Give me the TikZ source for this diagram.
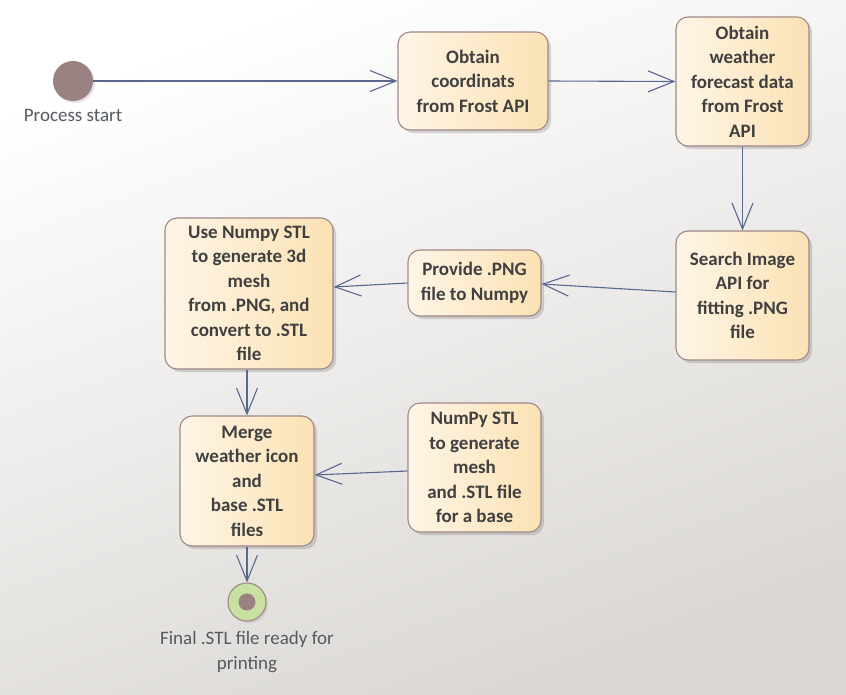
\documentclass[tikz,border=0pt]{standalone}
\usepackage{fontspec}
\setmainfont{Carlito}
\usetikzlibrary{arrows.meta,shadows}
\definecolor{boxL}{HTML}{FEF5E6}
\definecolor{boxR}{HTML}{FBE2B4}
\definecolor{boxD}{HTML}{A08888}
\definecolor{lineC}{HTML}{5A6890}
\definecolor{txtC}{HTML}{404040}
\definecolor{lblC}{HTML}{555a60}
\definecolor{dotC}{HTML}{9A8282}
\definecolor{endG}{HTML}{C8E0A0}
\definecolor{bgB}{HTML}{DAD7D3}
\tikzset{
  act/.style={draw=boxD, line width=1.1pt, rounded corners=12pt, left color=boxL, right color=boxR,
    drop shadow={shadow xshift=3pt, shadow yshift=-3pt, opacity=0.25, fill=black!60},
    align=center, text=txtC, font=\fontsize{19}{24.5}\selectfont\bfseries, inner sep=0pt},
  arr/.style={draw=lineC, line width=1.1pt, -{Straight Barb[length=26pt,width=21pt,line width=1.1pt]}},
  lbl/.style={text=lblC, font=\fontsize{19}{24.5}\selectfont, align=center}
}
\begin{document}
\begin{tikzpicture}[x=1pt,y=-1pt]
\useasboundingbox (0,0) rectangle (846,694);
\shade[top color=white, bottom color=bgB, shading angle=20] (0,0) rectangle (846,694);
% nodes
\node[circle, fill=dotC, minimum size=40pt, inner sep=0pt, drop shadow={shadow xshift=2pt, shadow yshift=-2pt, opacity=0.2}] (start) at (73,81) {};
\node[lbl, anchor=center] (startlbl) at (73,115) {Process start};
\node[act, minimum width=150pt, minimum height=98pt] (b1) at (473,81) {Obtain\\coordinats\\from Frost API};
\node[act, minimum width=133pt, minimum height=129pt] (b2) at (742.5,81.5) {Obtain\\weather\\forecast data\\from Frost\\API};
\node[act, minimum width=133pt, minimum height=129pt] (b3) at (742.5,295.5) {Search Image\\API for\\fitting .PNG\\file};
\node[act, minimum width=133pt, minimum height=66pt] (b4) at (474.5,283) {Provide .PNG\\file to Numpy};
\node[act, minimum width=168pt, minimum height=151pt] (b5) at (249,293.5) {Use Numpy STL\\to generate 3d\\mesh\\from .PNG, and\\convert to .STL\\file};
\node[act, minimum width=134pt, minimum height=130pt] (b6) at (247,481) {Merge\\weather icon\\and\\base .STL\\files};
\node[act, minimum width=133pt, minimum height=129pt] (b7) at (474.5,467.5) {NumPy STL\\to generate\\mesh\\and .STL file\\for a base};
\node[circle, draw=boxD, line width=1.1pt, fill=endG, minimum size=38pt, inner sep=0pt, drop shadow={shadow xshift=2pt, shadow yshift=-2pt, opacity=0.2}] (end) at (247,602) {};
\node[circle, fill=dotC, minimum size=17pt, inner sep=0pt] (enddot) at (end.center) {};
\node[lbl] (endlbl) at (247,652) {Final .STL file ready for\\printing};
% connectors
\draw[arr] (start.east) -- (b1.west);
\draw[arr] (b1.east) -- (b2.west);
\draw[arr] (b2.south) -- (b3.north);
\draw[arr] ([yshift=3.5pt]b3.west) -- ([yshift=-1pt]b4.east);
\draw[arr] (b4.west) -- ([yshift=6.5pt]b5.east);
\draw[arr] ([xshift=-2pt]b5.south) -- (b6.north);
\draw[arr] ([yshift=-3.5pt]b7.west) -- ([yshift=6pt]b6.east);
\draw[arr] (b6.south) -- (end.north);
\end{tikzpicture}
\end{document}
